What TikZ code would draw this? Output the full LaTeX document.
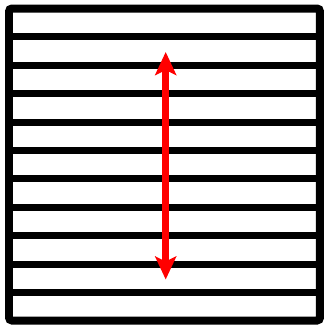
\documentclass[tikz,border=0pt]{standalone}
\usetikzlibrary{arrows.meta}
\begin{document}
\begin{tikzpicture}[x=1pt,y=-1pt,
  frame/.style={draw=black,line width=8pt,rounded corners=3pt},
  rule/.style={draw=black,line width=7pt},
  dimarrow/.style={draw=red,line width=7pt,{Stealth[length=23pt,width=21pt,inset=5pt]}-{Stealth[length=23pt,width=21pt,inset=5pt]}}]
\useasboundingbox (0,0) rectangle (324,325);
\foreach \k in {1,...,10}{
  \draw[rule] (9,{8.5+28.4*\k}) -- (320,{8.5+28.4*\k});
}
\draw[frame] (9,8.5) rectangle (320,320.5);
\coordinate (top) at (165.7,52);
\coordinate (bot) at (165.7,279.5);
\draw[dimarrow] (top) -- (bot);
\end{tikzpicture}
\end{document}
